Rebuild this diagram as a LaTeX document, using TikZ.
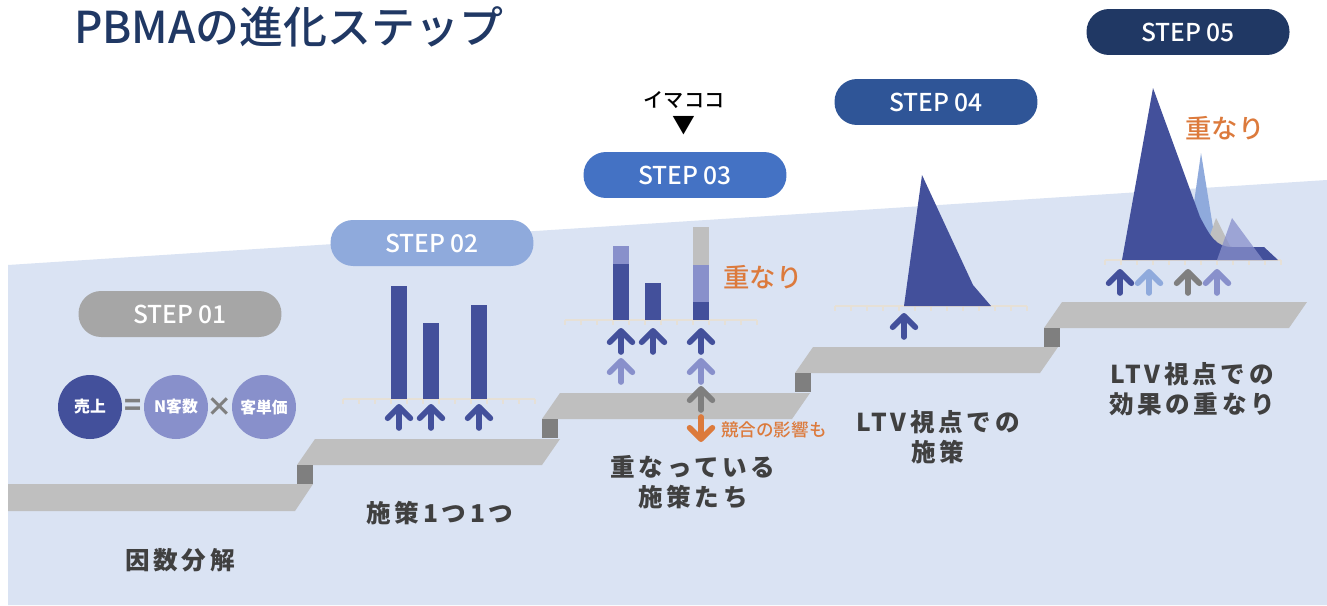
\documentclass[tikz,border=0pt]{standalone}
\usepackage{fontspec}
\setmainfont{Noto Sans CJK JP}
\newfontfamily\medfont[UprightFont=* Medium, BoldFont=* Bold]{Noto Sans CJK JP}
\newfontfamily\spacedfont[LetterSpace=15]{Noto Sans CJK JP}
\usepackage{tikz}
\usetikzlibrary{arrows.meta}
\definecolor{bg_blue}{HTML}{DAE3F3}
\definecolor{rib_gray}{HTML}{BFBFBF}
\definecolor{sq_gray}{HTML}{7F7F7F}
\definecolor{indigo}{HTML}{43509B}
\definecolor{lav}{HTML}{8890CB}
\definecolor{sky}{HTML}{8FAADC}
\definecolor{step_one}{HTML}{A6A6A6}
\definecolor{step_three}{HTML}{4472C4}
\definecolor{step_four}{HTML}{2F5597}
\definecolor{navy}{HTML}{203864}
\definecolor{accent}{HTML}{DC7A3C}
\definecolor{label_gray}{HTML}{404040}
\definecolor{tick_col}{HTML}{E6E0D6}
\tikzset{my_pill/.style={rounded corners=0.45cm, minimum width=4.06cm, minimum height=0.92cm, text=white, font=\medfont\fontsize{14}{16}\selectfont}}
\tikzset{my_circle/.style={circle, minimum size=1.28cm, inner sep=0pt, text=white, font=\bfseries\fontsize{9}{10}\selectfont}}
\tikzset{my_label/.style={text=label_gray, align=center, font=\spacedfont\bfseries\fontsize{14}{17}\selectfont}}
\tikzset{my_note/.style={text=accent, font=\medfont\fontsize{15}{17}\selectfont}}
\tikzset{my_up/.style={line width=3.2pt, line cap=round, -{Straight Barb[length=6.5pt, width=13pt, round]}}}
\tikzset{my_axis/.style={tick_col, line width=0.8pt}}

\begin{document}
\begin{tikzpicture}[x=0.02cm, y=-0.02cm]
    \useasboundingbox (0,0) rectangle (1327,605);
    \fill[white] (0,0) rectangle (1327,605);
    % background band
    \fill[bg_blue] (8,265) -- (1327,180) -- (1327,605) -- (8,605) -- cycle;

    % stairs
    \fill[rib_gray] (8,484) -- (313,484) -- (295,511) -- (8,511) -- cycle;
    \foreach \xl/\xr/\yt in {315/560/439, 560/810/393, 813/1058/347, 1062/1307/302} {
        \fill[rib_gray] (\xl,\yt) -- (\xr,\yt) -- (\xr-18,\yt+26) -- (\xl-18,\yt+26) -- cycle;
        \fill[sq_gray] (\xl-18,\yt+26) rectangle (\xl-2,\yt+45);
    }

    % title
    \node[text=navy, font=\medfont\fontsize{25}{28}\selectfont, anchor=west] (title) at (68,27) {PBMAの進化ステップ};

    % step pills
    \node[my_pill, fill=step_one] (s1) at (180,314) {STEP 01};
    \node[my_pill, fill=sky] (s2) at (432,243) {STEP 02};
    \node[my_pill, fill=step_three] (s3) at (685,175) {STEP 03};
    \node[my_pill, fill=step_four] (s4) at (936,102) {STEP 04};
    \node[my_pill, fill=navy] (s5) at (1188,32) {STEP 05};

    % step 01
    \node[my_circle, fill=indigo] (sales) at (90,407) {売上};
    \node[text=sq_gray, font=\bfseries\fontsize{16}{16}\selectfont] (eq) at (133,407) {=};
    \node[my_circle, fill=lav] (ncust) at (176,407) {N客数};
    \node[text=sq_gray, font=\bfseries\fontsize{15}{15}\selectfont] (times) at (220,407) {×};
    \node[my_circle, fill=lav] (price) at (264,407) {客単価};
    \node[my_label] (l1) at (180,560) {因数分解};

    % axes with ticks
    \foreach \x/\y/\n/\d in {343/399/12/16, 565/320/12/16, 835/306/12/16, 1105/260/11/16} {
        \draw[my_axis] (\x,\y) -- (\x+\n*\d,\y);
        \foreach \k in {0,...,\n} {
            \draw[my_axis] (\x+\k*\d,\y) -- (\x+\k*\d,\y+5);
        }
    }

    % step 02
    \fill[indigo] (391,399) rectangle (407,286);
    \fill[indigo] (423,399) rectangle (439,323);
    \fill[indigo] (471,399) rectangle (487,305);
    \node[my_label] (l2) at (440,513) {施策1つ1つ};

    % step 03
    \fill[indigo] (613,320) rectangle (629,264);
    \fill[lav] (613,264) rectangle (629,246);
    \fill[indigo] (645,320) rectangle (661,283);
    \fill[indigo] (693,320) rectangle (709,302);
    \fill[lav] (693,302) rectangle (709,265);
    \fill[rib_gray] (693,265) rectangle (709,227);
    \node[my_note] (n3) at (763,277) {重なり};
    \node[font=\medfont\fontsize{11.5}{12}\selectfont] (here) at (684,100) {イマココ};
    \node[font=\fontsize{13}{13}\selectfont] (here_mark) at (684,126) {▼};
    \node[text=accent, font=\medfont\fontsize{10}{10}\selectfont, anchor=west] (rival) at (715,430) {競合の影響も};
    \node[my_label] (l3) at (693,482) {重なっている\\施策たち};

    % step 04
    \fill[indigo] (904,306) -- (922,175) -- (973,285) -- (991,306) -- cycle;
    \node[my_label] (l4) at (938,437) {LTV視点での\\施策};

    % step 05
    \fill[sky] (1188,245) -- (1201,153) -- (1215,240) -- cycle;
    \fill[rib_gray] (1205,250) -- (1216,218) -- (1232,250) -- cycle;
    \fill[indigo] (1122,260) -- (1153,88) -- (1200,217)
        .. controls (1210,236) and (1216,247) .. (1232,247) -- (1264,247) -- (1278,260) -- cycle;
    \fill[lav, opacity=0.75] (1217,260) -- (1232,218) -- (1263,260) -- cycle;
    \node[my_note] (n5) at (1225,128) {重なり};
    \node[my_label] (l5) at (1192,389) {LTV視点での\\効果の重なり};

    % arrows
    \foreach \n/\x/\y/\c in {a1/399/428/indigo, a2/431/428/indigo, a3/479/428/indigo,
        b1/621/352/indigo, b2/653/352/indigo, b3/701/352/indigo,
        b4/621/382/lav, b5/701/382/lav, b6/701/410/sq_gray,
        c1/904/337/indigo,
        d1/1120/293/indigo, d2/1149/293/sky, d3/1188/293/sq_gray, d4/1217/293/lav} {
        \coordinate (\n_from) at (\x,\y);
        \coordinate (\n_to) at (\x,\y-24);
        \draw[my_up, \c] (\n_from) -- (\n_to);
    }
    \coordinate (down_from) at (701,417);
    \coordinate (down_to) at (701,442);
    \draw[my_up, accent] (down_from) -- (down_to);
\end{tikzpicture}
\end{document}
